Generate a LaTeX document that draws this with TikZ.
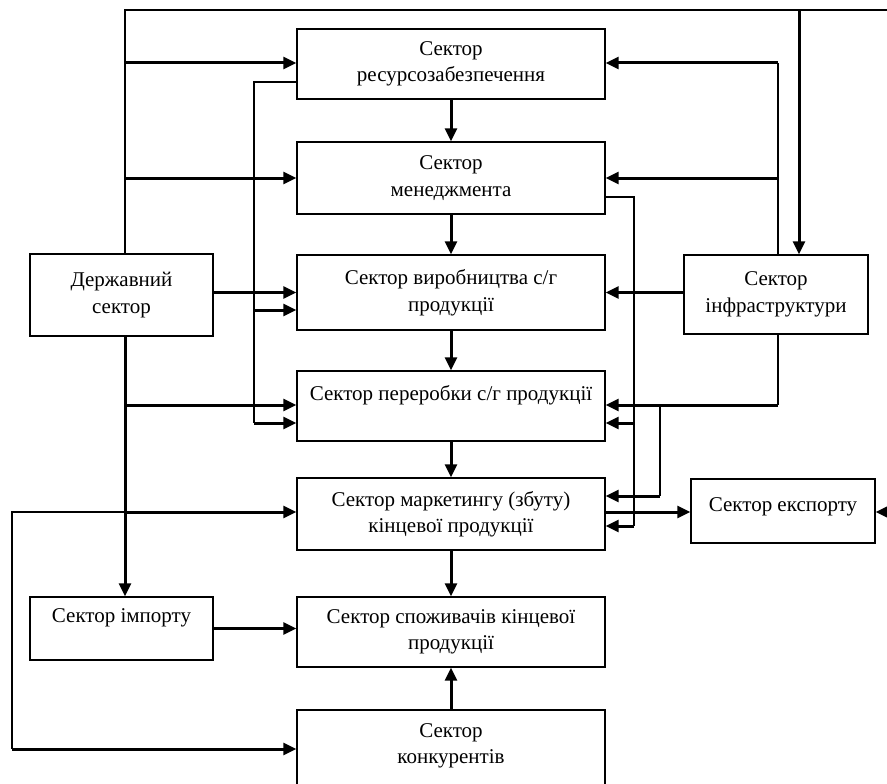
\documentclass[tikz,border=0pt]{standalone}
\usepackage{fontspec}
\setmainfont{Liberation Serif}
\usetikzlibrary{arrows.meta}
\begin{document}
\begin{tikzpicture}[x=1pt,y=-1pt,
  box/.style={draw, line width=1.4pt, align=center, inner sep=0pt, font=\fontsize{21}{26.5}\selectfont},
  cbox/.style={box, minimum width=308pt},
  sbox/.style={box, minimum width=183pt},
  th/.style={line width=3pt, -{Triangle[length=13pt,width=12pt]}},
  tn/.style={line width=1.5pt}]
\useasboundingbox (0,0) rectangle (887,784);
\clip (0,0) rectangle (887,784);
% central column
\node[cbox, minimum height=70pt] (res) at (451,64) {Сектор\\ресурсозабезпечення};
\node[cbox, minimum height=72pt] (man) at (451,178) {Сектор\\менеджмента};
\node[cbox, minimum height=75pt] (prod) at (451,292.5) {Сектор виробництва с/г\\продукції};
\node[cbox, minimum height=70pt] (proc) at (451,406) {Сектор переробки с/г продукції\\\mbox{}};
\node[cbox, minimum height=72pt] (mark) at (451,514) {Сектор маркетингу (збуту)\\кінцевої продукції};
\node[cbox, minimum height=70pt] (cons) at (451,632) {Сектор споживачів кінцевої\\продукції};
\node[cbox, minimum height=94pt] (comp) at (451,757) {Сектор\\конкурентів\\\mbox{}};
% side boxes
\node[sbox, minimum height=82pt] (state) at (121.5,295) {Державний\\сектор};
\node[sbox, minimum width=184pt, minimum height=79pt] (infra) at (776,294.5) {Сектор\\інфраструктури};
\node[sbox, minimum width=184pt, minimum height=64pt] (exp) at (783,511) {Сектор експорту\\[-14pt]\mbox{}};
\node[sbox, minimum height=63pt] (imp) at (121.5,628.5) {Сектор імпорту\\\mbox{}};
% helper coordinates
\coordinate (L) at (125,10);
\coordinate (R) at (895,10);
\coordinate (V) at (799,10);
\coordinate (A) at (778,63);
\coordinate (B) at (254,82);
\coordinate (M) at (634,197);
\coordinate (F) at (12,512);
\coordinate (G) at (12,749);
\coordinate (I) at (778,405);
\coordinate (J) at (660,405);
\coordinate (K) at (660,496);
\coordinate (E) at (895,512);
% top frame and left feeds
\draw[tn] (state.north -| L) -- (L) -- (R);
\draw[th] (L |- A) -- (res.west |- A);
\draw[th] (L |- man.west) -- (man.west);
\draw[th] (V) -- (V |- infra.north);
\draw[tn] (infra.north -| A) -- (A);
\draw[th] (A) -- (res.east |- A);
\draw[th] (A |- man.east) -- (man.east);
% resource feedback bus
\draw[tn] (res.west |- B) -- (B) -- (B |- 0,423);
\draw[th] (B |- 0,310) -- (prod.west |- 0,310);
\draw[th] (B |- 0,423) -- (proc.west |- 0,423);
% state sector
\draw[th] (state.east |- prod.west) -- (prod.west);
\draw[th] (state.south -| L) -- (imp.north -| L);
\draw[th] (L |- I) -- (proc.west |- I);
\draw[th] (L |- 0,512) -- (mark.west |- 0,512);
\draw[tn] (L |- F) -- (F) -- (G);
\draw[th] (G) -- (comp.west |- G);
\draw[th] (imp.east) -- (imp.east -| cons.west);
% vertical chain
\draw[th] (res.south) -- (man.north);
\draw[th] (man.south) -- (prod.north);
\draw[th] (prod.south) -- (proc.north);
\draw[th] (proc.south) -- (mark.north);
\draw[th] (mark.south) -- (cons.north);
\draw[th] (comp.north) -- (cons.south);
% management bus
\draw[tn] (man.east |- M) -- (M) -- (M |- 0,526);
\draw[th] (M |- 0,423) -- (proc.east |- 0,423);
\draw[th] (M |- 0,526) -- (mark.east |- 0,526);
% infrastructure
\draw[th] (infra.west |- prod.east) -- (prod.east);
\draw[tn] (infra.south -| I) -- (I);
\draw[th] (I) -- (proc.east |- I);
\draw[tn] (J) -- (K);
\draw[th] (K) -- (mark.east |- K);
% export
\draw[th] (mark.east |- E) -- (exp.west |- E);
\draw[th] (E) -- (exp.east |- E);
\end{tikzpicture}
\end{document}
